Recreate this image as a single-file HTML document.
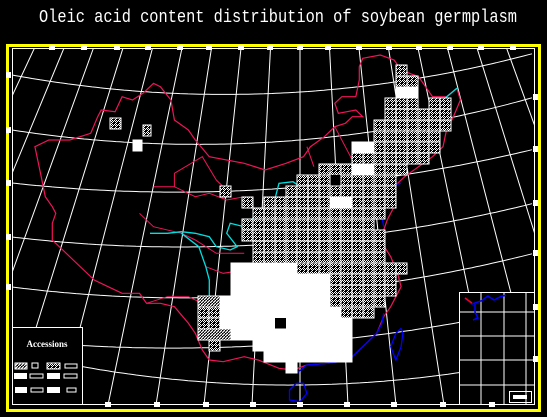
<!DOCTYPE html>
<html><head><meta charset="utf-8"><style>
html,body{margin:0;padding:0;background:#000;width:547px;height:417px;overflow:hidden}
svg{display:block}
</style></head><body>
<svg id="map" xmlns="http://www.w3.org/2000/svg" width="547" height="417" viewBox="0 0 547 417">
<defs>
<pattern id="pH" width="4" height="4" patternUnits="userSpaceOnUse"><rect width="4" height="4" fill="#000"/><rect width="1" height="1" fill="#fff"/><rect x="2" y="0" width="1" height="1" fill="#fff"/><rect x="1" y="1" width="1" height="1" fill="#fff"/><rect x="3" y="1" width="1" height="1" fill="#fff"/><rect x="0" y="2" width="1" height="1" fill="#fff"/><rect x="3" y="3" width="1" height="1" fill="#fff"/></pattern>
<pattern id="pD" width="3" height="3" patternUnits="userSpaceOnUse"><rect width="3" height="3" fill="#000"/><path d="M0 3L3 0" stroke="#fff" stroke-width="1.2"/></pattern>
<clipPath id="inner"><rect x="12" y="48" width="523" height="357"/></clipPath>
</defs>
<rect width="547" height="417" fill="#000"/>
<text x="278" y="22" text-anchor="middle" fill="#fff" font-family="Liberation Mono, monospace" font-size="18" textLength="478" lengthAdjust="spacingAndGlyphs">Oleic  acid content distribution  of soybean  germplasm</text>
<rect x="7.5" y="45.5" width="532" height="365" fill="none" stroke="#ff0" stroke-width="3"/>
<rect x="12.5" y="48.5" width="522" height="356" fill="none" stroke="#fff" stroke-width="1"/>
<g id="grat" clip-path="url(#inner)" stroke="#fff" stroke-width="1" fill="none"></g>
<g id="border" fill="none" stroke="#f0145a" stroke-width="1.2"></g>
<g id="rivers" fill="none" stroke-width="1.3"></g>
<g id="cells" clip-path="url(#inner)"></g>
<g>
<rect x="12.5" y="327.5" width="70" height="77" fill="#000" stroke="#fff"/>
<text x="47" y="347" text-anchor="middle" fill="#fff" font-family="Liberation Serif, serif" font-weight="bold" font-size="9">Accessions</text>
<rect x="15" y="363" width="12" height="6" fill="url(#pD)" stroke="#fff"/>
<rect x="32" y="363" width="6" height="5" fill="none" stroke="#fff"/>
<rect x="47" y="363" width="13" height="6" fill="url(#pH)" stroke="#fff"/>
<rect x="65" y="364" width="12" height="4" fill="none" stroke="#fff"/>
<rect x="14" y="373" width="13" height="6" fill="#fff"/>
<rect x="30" y="374" width="13" height="4" fill="none" stroke="#fff"/>
<rect x="47" y="373" width="13" height="6" fill="#fff"/>
<rect x="64" y="374" width="13" height="4" fill="none" stroke="#fff"/>
<rect x="15" y="387" width="12" height="6" fill="#fff"/>
<rect x="31" y="388" width="12" height="4" fill="none" stroke="#fff"/>
<rect x="47" y="387" width="13" height="6" fill="#fff"/>
<rect x="67" y="388" width="9" height="4" fill="none" stroke="#fff"/>
</g>
<g fill="none" stroke="#fff">
<rect x="459.5" y="292.5" width="75" height="112" fill="#000"/>
<path d="M460 312H535M460 336H535M460 360H535M460 385H535M481 293V404M504 293V404M526 293V404"/>
<path d="M465 298L472 304L481 301L488 296L494 300L500 297L506 295" stroke="#00f" stroke-width="1.5"/>
<path d="M475 304V312L478 318L473 320" stroke="#00f" stroke-width="1.5"/>
<path d="M465 298L472 303" stroke="#f00" stroke-width="1.5"/>
<rect x="509.5" y="391.5" width="22" height="11"/>
<rect x="513" y="395" width="14" height="4" fill="#fff" stroke="none"/>
</g>
</svg>
<script>
// Accession cell spans: [topY, leftX, rightX, type]  (H=crosshatch, D=diagonal, W=white, K=empty)
const spanTop = [65,76,87,98,98,109,120,131,142,142,153,164,164,175,175,186,186,197,197,197,208,219,230,241,252,263,263,274,274,285,285,296,296,296,307,307,307,318,318,318,329,329,340,340,351,362,118,125,140];
const spanLeft = [396,396,396,385,429,385,374,374,352,352,352,319,352,297,330,286,220,242,264,330,253,242,242,253,253,231,297,231,330,231,330,198,220,330,198,220,341,198,220,275,198,231,209,253,264,286,110,143,133];
const spanRight = [407,418,418,418,451,451,451,440,440,374,429,407,374,396,341,396,231,253,396,352,385,374,385,385,385,297,407,330,396,330,396,220,330,385,220,341,374,220,352,286,231,352,220,352,352,297,121,151,142];
const spanType = ['H','H','W','H','H','H','H','H','H','W','H','H','W','H','K','H','H','H','H','W','H','H','H','H','H','W','H','W','H','W','H','D','W','H','H','W','H','H','W','K','D','W','H','W','W','W','H','H','W'];

const NS='http://www.w3.org/2000/svg';
function mk(tag, attrs, parent){const e=document.createElementNS(NS,tag);for(const k in attrs)e.setAttribute(k,attrs[k]);parent.appendChild(e);return e;}

const grat=document.getElementById('grat');
for(let k=-10;k<=10;k++){
  const l=mk('line',{x1:300+k*29.5,y1:48,x2:300+k*48,y2:405},grat);
  
  
}
const arcs=[[75,92,53],[130,140,97],[183,187,149],[237,242,203],[287,293,253],[340,343,307],[352,385,359]];
arcs.forEach(a=>{
  const x0=12,x1=300,x2=535;
  let d='';
  for(let x=x0;x<=x2;x+=4){
    const y=a[0]*(x-x1)*(x-x2)/((x0-x1)*(x0-x2))+a[1]*(x-x0)*(x-x2)/((x1-x0)*(x1-x2))+a[2]*(x-x0)*(x-x1)/((x2-x0)*(x2-x1));
    d+=(d?'L':'M')+x+' '+y.toFixed(1);
  }
  const p=mk('path',{d:d},grat);
  
  
});
const ticksG=mk('g',{fill:'#fff'},document.getElementById('map'));
[52,84,117,148,180,209,241,270,300,328,359,389,419,450,481,513].forEach(x=>{mk('rect',{x:x-3,y:45,width:6,height:5},ticksG);});
[108,157,206,253,300,347,394,443,492].forEach(x=>{mk('rect',{x:x-3,y:402,width:6,height:5},ticksG);});
[75,130,183,237,287].forEach(y=>{mk('rect',{x:6,y:y-3,width:5,height:6},ticksG);});
[97,149,203,253,307,359].forEach(y=>{mk('rect',{x:533,y:y-3,width:5,height:6},ticksG);});

const bz=[[1040,55],[1090,45],[1130,60],[1150,90],[1200,110],[1220,140],[1240,170],[1280,170],[1310,145],[1320,180],[1300,230],[1280,270],[1270,320],[1240,350],[1200,380],[1160,410],[1130,440],[1100,480],[1130,500],[1110,540],[1090,600],[1120,650],[1140,700],[1150,740],[1120,800],[1100,830],[1080,880],[1040,920],[1000,960],[940,970],[880,975],[840,990],[800,985],[740,960],[700,950],[640,965],[600,960],[580,930],[560,880],[540,850],[500,800],[460,790],[420,790],[400,760],[350,760],[310,740],[270,720],[240,690],[210,660],[180,630],[150,600],[150,550],[160,520],[150,500],[130,470],[120,420],[110,370],[100,320],[140,300],[200,300],[260,280],[280,230],[290,210],[330,215],[350,170],[380,180],[410,160],[440,130],[460,140],[490,180],[500,240],[540,270],[560,300],[600,350],[700,370],[760,390],[820,370],[870,350],[890,320],[930,290],[960,260],[990,250],[1010,230],[1040,230],[1020,210],[970,220],[960,190],[980,170],[1020,170],[1030,120],[1030,80]];
const tp=p=>(p[0]/2.867).toFixed(1)+' '+(p[1]/3+40).toFixed(1);
const bd=document.getElementById('border');
const bp=mk('path',{d:'M'+bz.map(tp).join('L')+'Z'},bd);


const prov=[[[440,440],[500,440],[560,470],[600,460],[650,480],[700,470]],[[500,440],[500,400],[580,350],[620,420],[650,450]],[[400,520],[440,560],[520,580],[560,600],[620,640],[700,640]],[[590,680],[640,700],[700,690]],[[420,790],[480,770],[540,770],[580,790]],[[880,320],[900,380]],[[960,260],[990,320],[1020,380]]];
prov.forEach(pl=>{const p=mk('path',{d:'M'+pl.map(tp).join('L'),'stroke-width':1},bd);

});

const cg=document.getElementById('cells');
for(let i=0;i<spanTop.length;i++){
  const t=spanType[i];
  const fill=t==='W'?'#fff':t==='H'?'url(#pH)':t==='D'?'url(#pD)':'#000';
  const r=mk('rect',{x:spanLeft[i],y:spanTop[i],width:spanRight[i]-spanLeft[i],height:11,fill:fill,stroke:t==='K'?'none':'#fff','stroke-width':1},cg);
  
  
}
for(let i=0;i<spanTop.length;i++){
  if(spanType[i]!=='H')continue;
  for(let x=spanLeft[i]+11;x<spanRight[i];x+=11){
    mk('line',{x1:x,y1:spanTop[i],x2:x,y2:spanTop[i]+11,stroke:'#fff','stroke-width':1},cg);
  }
}

const rv=document.getElementById('rivers');
const rivers=[
 {c:'#00e0e0',n:'yellow-river',p:[[430,580],[480,580],[520,575],[560,580],[600,590],[620,620],[660,630],[680,620],[650,580],[660,550],[700,560],[760,500],[790,470],[800,430],[840,425],[860,440]]},
 {c:'#00e0e0',n:'yangtze-river',p:[[520,580],[570,620],[590,680],[600,720],[600,800],[620,820],[660,840],[700,860],[760,880],[860,900]]},
 {c:'#00e0e0',n:'songhua-river',p:[[1180,290],[1230,230],[1270,180],[1310,145]]},
 {c:'#0000ff',n:'coastline',p:[[1100,820],[1095,850],[1080,880],[1040,920],[1000,960],[940,970],[880,975],[850,1000]]},
 {c:'#0000ff',n:'taiwan',p:[[1150,865],[1135,880],[1120,920],[1135,960],[1150,920],[1155,880],[1150,865]]},
 {c:'#0000ff',n:'hainan',p:[[850,1030],[830,1050],[830,1080],[860,1085],[880,1060],[870,1030],[850,1030]]},
 {c:'#0000ff',n:'bohai-coast',p:[[1150,430],[1110,440],[1100,470],[1090,500],[1100,560]]}
];
rivers.forEach(r=>{const p=mk('path',{d:'M'+r.p.map(tp).join('L'),stroke:r.c},rv);

});
</script>
</body></html>
